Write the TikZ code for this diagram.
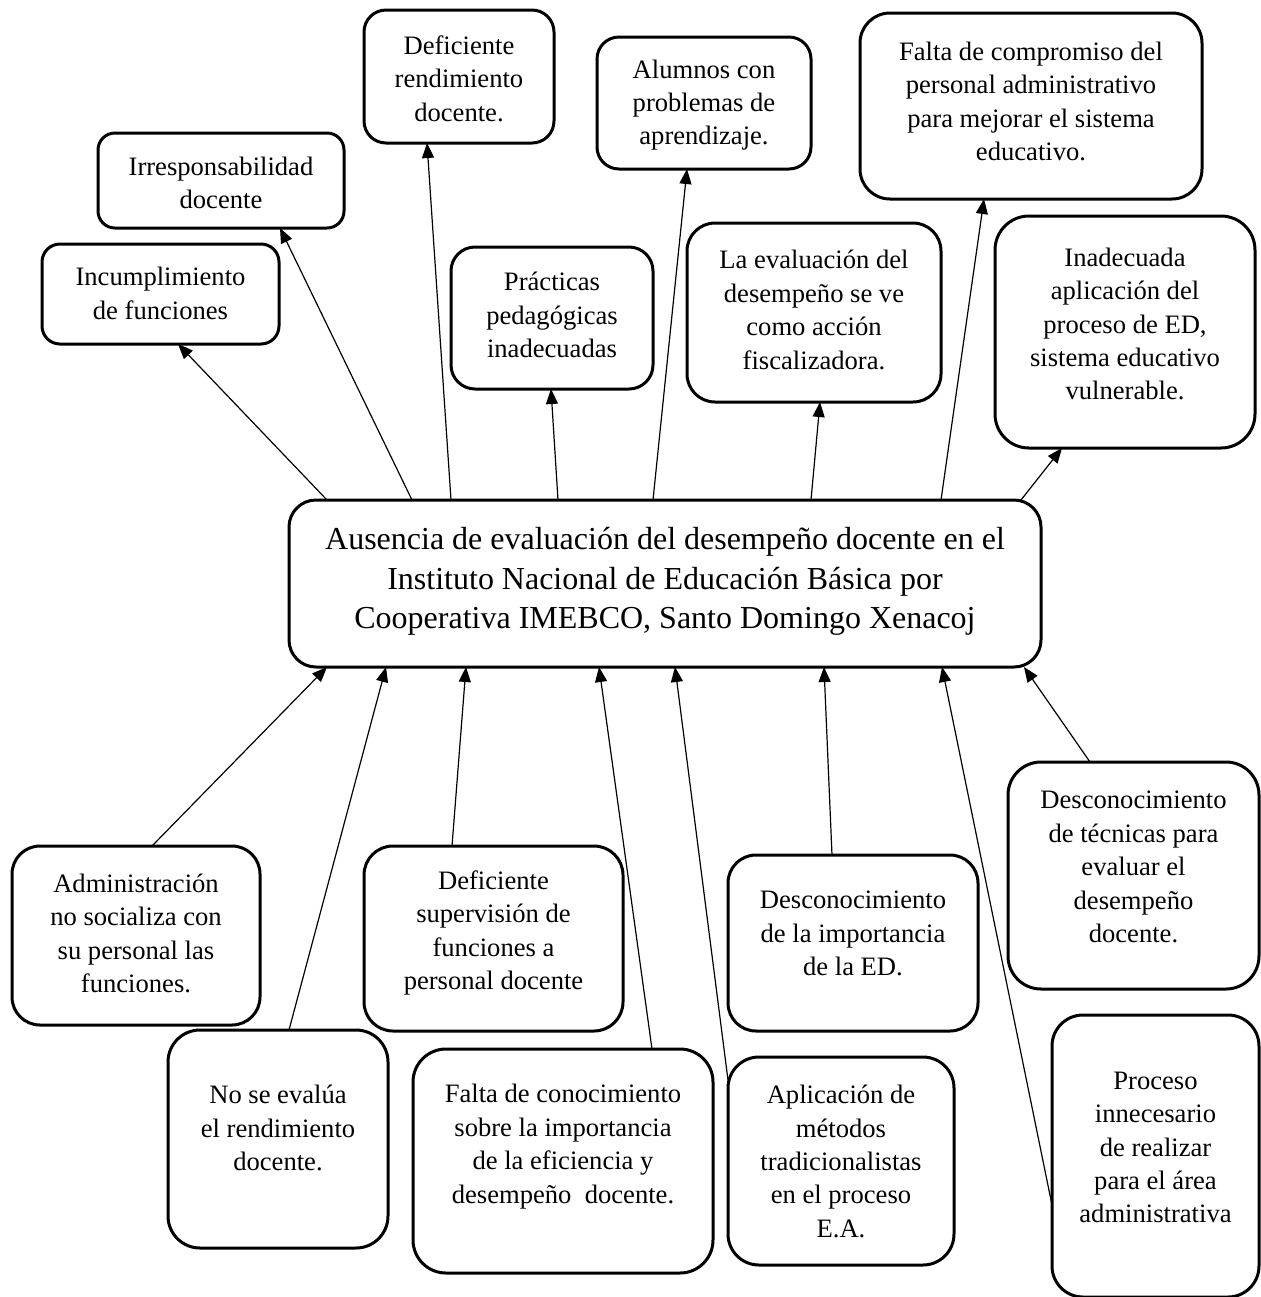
\documentclass[tikz,border=0pt]{standalone}
\usepackage{fontspec}
\setmainfont{Liberation Serif}
\usetikzlibrary{arrows.meta}
\tikzset{
  bx/.style n args={3}{draw, line width=1.5pt, rounded corners=#3, minimum width=#1, minimum height=#2, inner sep=0pt, outer sep=0pt},
  txt/.style={align=center, inner sep=0pt, font=\fontsize{13.3}{16.7}\selectfont},
  bigtxt/.style={align=center, inner sep=0pt, font=\fontsize{16}{19.6}\selectfont},
  arr/.style={line width=0.6pt, -{Triangle[length=7.5pt,width=6pt]}},
}
\begin{document}
\begin{tikzpicture}[x=0.5pt, y=-0.5pt]
\useasboundingbox (0,0) rectangle (1260,1297);
\fill[white] (0,0) rectangle (1260,1297);

% central node
\node[bx={376pt}{83.5pt}{13.5pt}] (C) at (665,583.5) {};
\node[bigtxt] (Ct) at (665,581.5) {Ausencia de evaluación del desempeño docente en el\\Instituto Nacional de Educación Básica por\\Cooperativa IMEBCO, Santo Domingo Xenacoj};

% effects (top)
\node[bx={118.5pt}{50pt}{9pt}] (T1) at (160.5,294) {};
\node[txt] (T1t) at (160.5,293.5) {Incumplimiento\\de funciones};
\node[bx={123pt}{47.5pt}{8.5pt}] (T2) at (221,180.5) {};
\node[txt] (T2t) at (221,183) {Irresponsabilidad\\docente};
\node[bx={95pt}{66.5pt}{11pt}] (T3) at (459,76.5) {};
\node[txt] (T3t) at (459,78.5) {Deficiente\\rendimiento\\docente.};
\node[bx={101pt}{71pt}{12pt}] (T4) at (552,318) {};
\node[txt] (T4t) at (552,315) {Prácticas\\pedagógicas\\inadecuadas};
\node[bx={107pt}{66pt}{11pt}] (T5) at (704,103) {};
\node[txt] (T5t) at (704,105) {Alumnos con\\problemas de\\aprendizaje.};
\node[bx={127pt}{89.5pt}{14pt}] (T6) at (814,312.5) {};
\node[txt] (T6t) at (814,310) {La evaluación del\\desempeño se ve\\como acción\\fiscalizadora.};
\node[bx={171pt}{93pt}{15pt}] (T7) at (1031,106) {};
\node[txt] (T7t) at (1031,101.5) {Falta de compromiso del\\personal administrativo\\para mejorar el sistema\\educativo.};
\node[bx={130pt}{116pt}{17pt}] (T8) at (1125,332) {};
\node[txt] (T8t) at (1125,324) {Inadecuada\\aplicación del\\proceso de ED,\\sistema educativo\\vulnerable.};

% causes (bottom)
\node[bx={124pt}{89.5pt}{14pt}] (B1) at (136,935.5) {};
\node[txt] (B1t) at (136,933.5) {Administración\\no socializa con\\su personal las\\funciones.};
\node[bx={110pt}{109pt}{16pt}] (B2) at (278,1139) {};
\node[txt] (B2t) at (278,1128) {No se evalúa\\el rendimiento\\docente.};
\node[bx={129.5pt}{92.5pt}{14.5pt}] (B3) at (493.5,938.5) {};
\node[txt] (B3t) at (493.5,933) {Deficiente\\supervisión de\\funciones a\\personal docente};
\node[bx={150pt}{112pt}{16.5pt}] (B4) at (563,1161) {};
\node[txt] (B4t) at (563,1146.5) {Falta de conocimiento\\sobre la importancia\\de la eficiencia y\\desempeño~~docente.};
\node[bx={125pt}{88pt}{14pt}] (B5) at (853,943) {};
\node[txt] (B5t) at (853,933.5) {Desconocimiento\\de la importancia\\de la ED.};
\node[bx={113pt}{104pt}{15.5pt}] (B6) at (841,1161) {};
\node[txt] (B6t) at (841,1161.5) {Aplicación de\\métodos\\tradicionalistas\\en el proceso\\E.A.};
\node[bx={125.5pt}{113.5pt}{16.5pt}] (B7) at (1133.5,875.5) {};
\node[txt] (B7t) at (1133.5,867) {Desconocimiento\\de técnicas para\\evaluar el\\desempeño\\docente.};
\node[bx={103.5pt}{141pt}{15.5pt}] (B8) at (1155.5,1156) {};
\node[txt] (B8t) at (1155.5,1147.5) {Proceso\\innecesario\\de realizar\\para el área\\administrativa};

% connectors: centre -> effects
\draw[arr] (C.north -| 327,0) -- (T1.south -| 178,0);
\draw[arr] (C.north -| 412,0) -- (T2.south -| 280,0);
\draw[arr] (C.north -| 451,0) -- (T3.south -| 427,0);
\draw[arr] (C.north -| 558,0) -- (T4.south -| 551,0);
\draw[arr] (C.north -| 653,0) -- (T5.south -| 687,0);
\draw[arr] (C.north -| 811,0) -- (T6.south -| 820,0);
\draw[arr] (C.north -| 941,0) -- (T7.south -| 984,0);
\draw[arr] (C.north -| 1021,0) -- (T8.south -| 1062,0);

% connectors: causes -> centre
\draw[arr] (B1.north -| 152,0) -- (C.south -| 327,0);
\draw[arr] (B2.north -| 289,0) -- (C.south -| 386,0);
\draw[arr] (B3.north -| 452,0) -- (C.south -| 466,0);
\draw[arr] (B4.north -| 652,0) -- (C.south -| 599,0);
\draw[arr] (B6.west |- 0,1080) -- (C.south -| 675,0);
\draw[arr] (B5.north -| 832,0) -- (C.south -| 824,0);
\draw[arr] (B8.west |- 0,1205) -- (C.south -| 942,0);
\draw[arr] (B7.north -| 1090,0) -- (C.south -| 1024,0);
\end{tikzpicture}
\end{document}
